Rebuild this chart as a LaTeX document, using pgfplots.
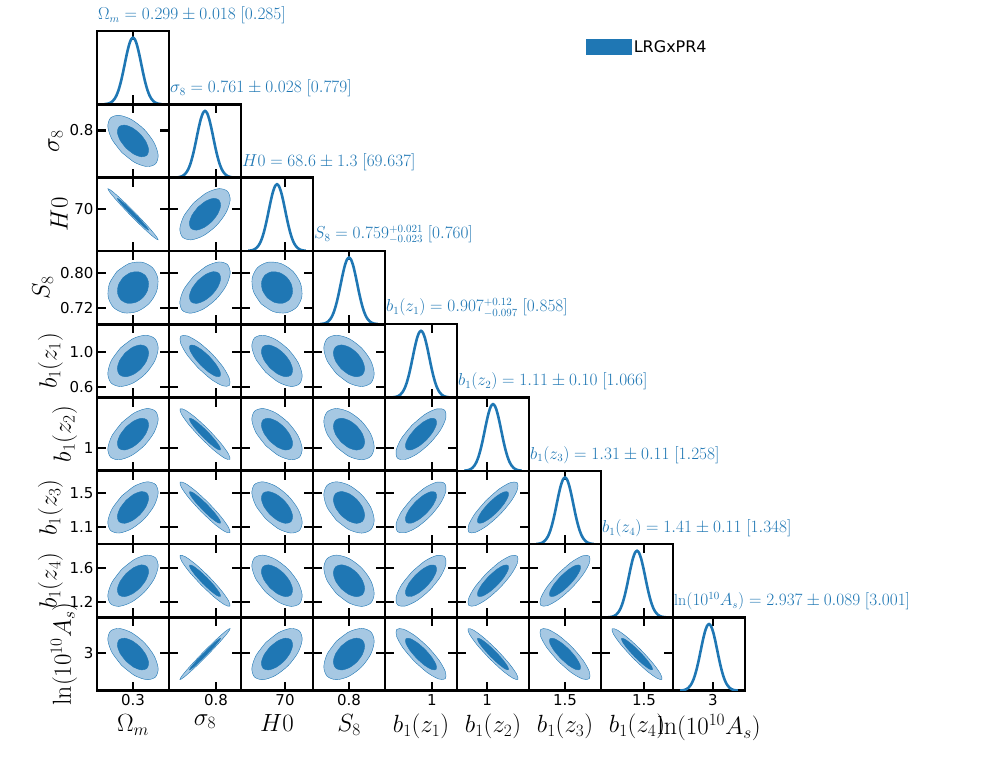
\documentclass[border=0pt]{standalone}
\usepackage{pgfplots}
\usepackage{pgfplotstable}
\pgfplotsset{compat=1.18}
\usepackage{fontspec}
\newfontfamily\dejavu{DejaVu Sans}
\definecolor{c}{HTML}{1F77B4}
\definecolor{lc}{HTML}{A6C8E3}
\pgfplotstableread{
x y
-.632 .632
-.934 .160
-.987 -.355
-.775 -.775
-.355 -.987
.160 -.934
.632 -.632
.934 -.160
.987 .355
.775 .775
.355 .987
-.160 .934
-.632 .632
}\Ttw
\pgfplotstableread{
x y
-.5 .5
-.866 0
-1 -.5
-.866 -.866
-.5 -1
0 -.866
.5 -.5
.866 0
1 .5
.866 .866
.5 1
0 .866
-.5 .5
}\Tfi
\pgfplotstableread{
x y
-.447 .447
-.834 -.060
-.998 -.550
-.894 -.894
-.550 -.998
-.060 -.834
.447 -.447
.834 .060
.998 .550
.894 .894
.550 .998
.060 .834
-.447 .447
}\Tsi
\pgfplotstableread{
x y
-.354 .354
-.774 -.161
-.987 -.633
-.935 -.935
-.633 -.987
-.161 -.774
.354 -.354
.774 .161
.987 .633
.935 .935
.633 .987
.161 .774
-.354 .354
}\Tse
\pgfplotstableread{
x y
-.274 .274
-.718 -.244
-.970 -.696
-.962 -.962
-.696 -.970
-.244 -.718
.274 -.274
.718 .244
.970 .696
.962 .962
.696 .970
.244 .718
-.274 .274
}\Tei
\pgfplotstableread{
x y
-.158 .158
-.631 -.357
-.934 -.776
-.987 -.987
-.776 -.934
-.357 -.631
.158 -.158
.631 .357
.934 .776
.987 .987
.776 .934
.357 .631
-.158 .158
}\Tni
\pgfplotstableread{
x y
-.071 .071
-.560 -.438
-.898 -.828
-.997 -.997
-.828 -.898
-.438 -.560
.071 -.071
.560 .438
.898 .828
.997 .997
.828 .898
.438 .560
-.071 .071
}\Tnn
\pgfplotstableread{
x y
-3.5 0.002
-3.25 0.005
-3 0.011
-2.75 0.023
-2.5 0.044
-2.25 0.080
-2 0.135
-1.75 0.216
-1.5 0.325
-1.25 0.458
-1 0.607
-0.75 0.755
-0.5 0.882
-0.25 0.969
0 1
0.25 0.969
0.5 0.882
0.75 0.755
1 0.607
1.25 0.458
1.5 0.325
1.75 0.216
2 0.135
2.25 0.080
2.5 0.044
2.75 0.023
3 0.011
3.25 0.005
3.5 0.002
}\Gau
\pgfplotsset{
 base/.style={width=72pt,height=73.3pt,scale only axis,anchor=north west,
  xmin=-3.5,xmax=3.5,ymin=-3.5,ymax=3.5,
  axis line style={line width=2.6pt},
  tick style={black,line width=2.2pt},major tick length=9pt,tick align=inside,
  xticklabels={},yticklabels={},
  ticklabel style={font=\dejavu\fontsize{15}{15}\selectfont},
  xlabel style={font=\fontsize{26}{26}\selectfont,yshift=-2pt},
  ylabel style={font=\fontsize{26}{26}\selectfont},
  title style={at={(0,1)},anchor=south west,inner sep=1pt,text=c,font=\fontsize{16}{16}\selectfont}},
 c0/.style={xtick={0}}, c0l/.style={xticklabels={0.3},xlabel={$\Omega_m$}},
 c1/.style={xtick={1.07}}, c1l/.style={xticklabels={0.8},xlabel={$\sigma_8$}},
 c2/.style={xtick={0.78}}, c2l/.style={xticklabels={70},xlabel={$H0$}},
 c3/.style={xtick={0}}, c3l/.style={xticklabels={0.8},xlabel={$S_8$}},
 c4/.style={xtick={1.07}}, c4l/.style={xticklabels={1},xlabel={$b_1(z_1)$}},
 c5/.style={xtick={-0.58}}, c5l/.style={xticklabels={1},xlabel={$b_1(z_2)$}},
 c6/.style={xtick={0}}, c6l/.style={xticklabels={1.5},xlabel={$b_1(z_3)$}},
 c7/.style={xtick={0.68}}, c7l/.style={xticklabels={1.5},xlabel={$b_1(z_4)$}},
 c8/.style={xtick={0.39}}, c8l/.style={xticklabels={3},xlabel={$\ln(10^{10}A_s)$}},
 r1/.style={ytick={1.0}}, r1l/.style={yticklabels={0.8},ylabel={$\sigma_8$}},
 r2/.style={ytick={0.53}}, r2l/.style={yticklabels={70},ylabel={$H0$}},
 r3/.style={ytick={-1.94,1.36}}, r3l/.style={yticklabels={0.72,0.80},ylabel={$S_8$}},
 r4/.style={ytick={-2.46,0.82}}, r4l/.style={yticklabels={0.6,1.0},ylabel={$b_1(z_1)$}},
 r5/.style={ytick={-1.3}}, r5l/.style={yticklabels={1},ylabel={$b_1(z_2)$}},
 r6/.style={ytick={-1.9,1.4}}, r6l/.style={yticklabels={1.1,1.5},ylabel={$b_1(z_3)$}},
 r7/.style={ytick={-2.0,1.2}}, r7l/.style={yticklabels={1.2,1.6},ylabel={$b_1(z_4)$}},
 r8/.style={ytick={0.1}}, r8l/.style={yticklabels={3},ylabel={$\ln(10^{10}A_s)$}},
}
\newcommand\panel[5]{%
\begin{axis}[base,at={({(97+72*#1)*1pt},{-(31+73.3*#2)*1pt})},c#1,r#2,#5]
\addplot[fill=lc,draw=c,line width=0.4pt,smooth] table[x expr=2.45*\thisrow{x},y expr=#4*2.45*\thisrow{y}] {#3};
\addplot[fill=c,draw=c,line width=0.4pt,smooth] table[x expr=1.52*\thisrow{x},y expr=#4*1.52*\thisrow{y}] {#3};
\end{axis}}
\newcommand\diag[4]{%
\begin{axis}[base,at={({(97+72*#1)*1pt},{-(31+73.3*#1)*1pt})},c#1,ytick=\empty,ymin=0,ymax=1.1,title={#2},#3]
\addplot[c,line width=2.6pt,smooth] table[x expr=0.8*\thisrow{x}] {\Gau};
#4
\end{axis}}
\begin{document}
\begin{tikzpicture}
\path[use as bounding box] (0,0) rectangle (985pt,-775pt);
\diag{0}{$\Omega_m = 0.299\pm 0.018~[0.285]$}{legend style={at={(6.75,0.78)},anchor=west,draw=none,fill=none,font=\dejavu\fontsize{16}{16}\selectfont},
 legend image code/.code={\fill[c] (0pt,-7pt) rectangle (43pt,7pt);}}{\addlegendimage{c}\addlegendentry{LRGxPR4}}
\diag{1}{$\sigma_8 = 0.761\pm0.028~[0.779]$}{}{}
\diag{2}{$H0 = 68.6\pm1.3~[69.637]$}{}{}
\diag{3}{$S_8 = 0.759^{+0.021}_{-0.023}~[0.760]$}{}{}
\diag{4}{$b_1(z_1) = 0.907^{+0.12}_{-0.097}~[0.858]$}{}{}
\diag{5}{$b_1(z_2)=1.11\pm0.10~[1.066]$}{}{}
\diag{6}{$b_1(z_3)=1.31\pm0.11~[1.258]$}{}{}
\diag{7}{$b_1(z_4)=1.41\pm0.11~[1.348]$}{}{}
\diag{8}{$\ln(10^{10}A_s)=2.937\pm0.089~[3.001]$}{c8l}{}
\panel{0}{1}{\Tsi}{-1}{r1l}
\panel{0}{2}{\Tnn}{-1}{r2l}
\panel{1}{2}{\Tsi}{1}{}
\panel{0}{3}{\Ttw}{1}{r3l}
\panel{1}{3}{\Tsi}{1}{}
\panel{2}{3}{\Ttw}{-1}{}
\panel{0}{4}{\Tfi}{1}{r4l}
\panel{1}{4}{\Tei}{-1}{}
\panel{2}{4}{\Tsi}{-1}{}
\panel{3}{4}{\Tfi}{-1}{}
\panel{0}{5}{\Tsi}{1}{r5l}
\panel{1}{5}{\Tni}{-1}{}
\panel{2}{5}{\Tsi}{-1}{}
\panel{3}{5}{\Tfi}{-1}{}
\panel{4}{5}{\Tse}{1}{}
\panel{0}{6}{\Tsi}{1}{r6l}
\panel{1}{6}{\Tni}{-1}{}
\panel{2}{6}{\Tsi}{-1}{}
\panel{3}{6}{\Tfi}{-1}{}
\panel{4}{6}{\Tse}{1}{}
\panel{5}{6}{\Tei}{1}{}
\panel{0}{7}{\Tsi}{1}{r7l}
\panel{1}{7}{\Tni}{-1}{}
\panel{2}{7}{\Tsi}{-1}{}
\panel{3}{7}{\Tfi}{-1}{}
\panel{4}{7}{\Tse}{1}{}
\panel{5}{7}{\Tei}{1}{}
\panel{6}{7}{\Tei}{1}{}
\panel{0}{8}{\Tsi}{-1}{r8l,c0l}
\panel{1}{8}{\Tnn}{1}{c1l}
\panel{2}{8}{\Tsi}{1}{c2l}
\panel{3}{8}{\Tfi}{1}{c3l}
\panel{4}{8}{\Tei}{-1}{c4l}
\panel{5}{8}{\Tni}{-1}{c5l}
\panel{6}{8}{\Tei}{-1}{c6l}
\panel{7}{8}{\Tni}{-1}{c7l}
\end{tikzpicture}
\end{document}
